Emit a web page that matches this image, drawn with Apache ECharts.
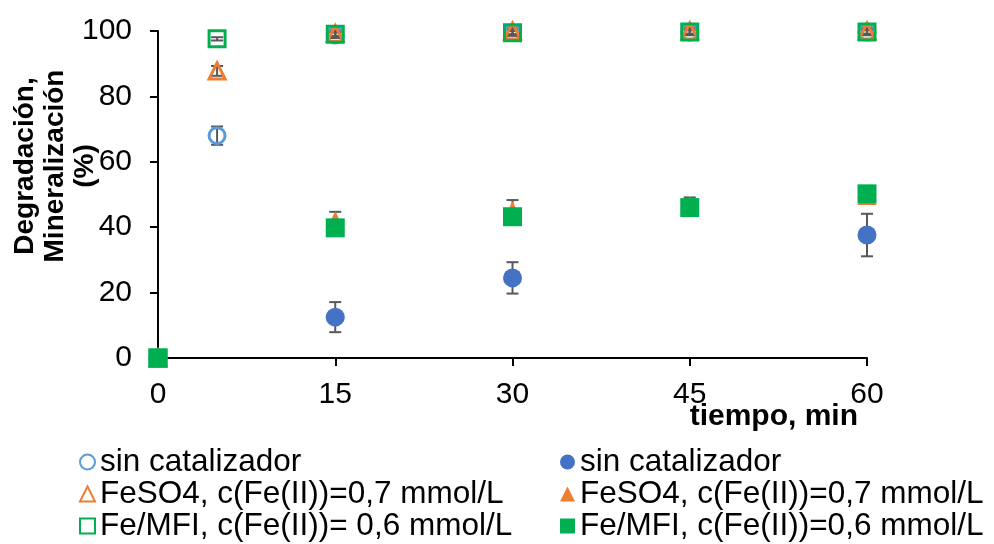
<!DOCTYPE html>
<html>
<head>
<meta charset="utf-8">
<script src="https://cdn.jsdelivr.net/npm/echarts@6/dist/echarts.min.js"></script>
<style>html,body{margin:0;padding:0;background:#fff}#c{width:994px;height:544px}</style>
</head>
<body>
<div id="c"></div>
<script>
// ---- data ----
var times = [0, 5, 15, 30, 45, 60];
var labels = [
  'sin catalizador',
  'sin catalizador',
  'FeSO4, c(Fe(II))=0,7 mmol/L',
  'FeSO4, c(Fe(II))=0,7 mmol/L',
  'Fe/MFI, c(Fe(II))= 0,6 mmol/L',
  'Fe/MFI, c(Fe(II))=0,6 mmol/L'
];
var degSin     = [0, 68.0, 98.8, 99.5, 99.7, 99.7];
var degSinErr  = [0, 2.8, 1, 1, 1, 1];
var minSin     = [0, null, 12.5, 24.5, null, 37.6];
var minSinErr  = [0, null, 4.6, 4.8, null, 6.5];
var degFe      = [0, 87.8, 99.2, 100, 100, 100];
var degFeErr   = [0, 1.5, 1, 1, 1, 1];
var minFe      = [0, null, 42.0, 45.0, 46.5, 49.7];
var minFeErr   = [0, null, 2.7, 3.3, 2.6, 1];
var degMfi     = [0, 97.6, 99.0, 99.5, 99.7, 99.7];
var degMfiErr  = [0, 0.5, 0.5, 0.5, 0.5, 0.5];
var minMfi     = [0, null, 39.8, 43.2, 46.0, 50.2];
var minMfiErr  = [0, null, 1, 1, 1, 1];
var xTicks = [0, 15, 30, 45, 60];
var yTicks = [0, 20, 40, 60, 80, 100];

// ---- build ----
var FONT = '"Liberation Sans", Arial, sans-serif';
function pts(v) {
  var out = [];
  for (var i = 0; i < times.length; i++) if (v[i] !== null) out.push([times[i], v[i]]);
  return out;
}
function errPts(v, e) {
  var out = [];
  for (var i = 0; i < times.length; i++) if (v[i] !== null && e[i]) out.push([times[i], v[i] - e[i], v[i] + e[i]]);
  return out;
}
function errSeries(v, e) {
  return {
    type: 'custom', data: errPts(v, e), z: 1, silent: true,
    encode: { x: 0, y: [1, 2] },
    renderItem: function (params, api) {
      var lo = api.coord([api.value(0), api.value(1)]);
      var hi = api.coord([api.value(0), api.value(2)]);
      var hw = 6;
      var st = { stroke: '#595959', lineWidth: 2 };
      return { type: 'group', children: [
        { type: 'line', shape: { x1: lo[0], y1: lo[1], x2: hi[0], y2: hi[1] }, style: st },
        { type: 'line', shape: { x1: lo[0] - hw, y1: lo[1], x2: lo[0] + hw, y2: lo[1] }, style: st },
        { type: 'line', shape: { x1: hi[0] - hw, y1: hi[1], x2: hi[0] + hw, y2: hi[1] }, style: st }
      ]};
    }
  };
}
function openSeries(name, v, sym, color) {
  return { name: name, type: 'scatter', data: pts(v), symbol: sym, symbolSize: 16, z: 3,
    itemStyle: { color: 'rgba(255,255,255,0)', borderColor: color, borderWidth: 3, opacity: 1 } };
}
function filledSeries(name, v, sym, color, size) {
  return { name: name, type: 'scatter', data: pts(v), symbol: sym, symbolSize: size, z: 3,
    itemStyle: { color: color, opacity: 1 } };
}
var names = ['s0', 's1', 's2', 's3', 's4', 's5'];
var series = [
  errSeries(degSin, degSinErr), errSeries(minSin, minSinErr),
  errSeries(degFe, degFeErr), errSeries(minFe, minFeErr),
  errSeries(degMfi, degMfiErr), errSeries(minMfi, minMfiErr),
  openSeries(names[0], degSin, 'circle', '#5B9BD5'),
  filledSeries(names[1], minSin, 'circle', '#4472C4', 19),
  openSeries(names[2], degFe, 'triangle', '#ED7D31'),
  filledSeries(names[3], minFe, 'triangle', '#ED7D31', 19),
  openSeries(names[4], degMfi, 'rect', '#00B050'),
  filledSeries(names[5], minMfi, 'rect', '#00B050', 19)
];
function fmt(n) { return labels[names.indexOf(n)]; }
var legendBase = {
  orient: 'vertical', itemWidth: 15, itemHeight: 15, itemGap: 0, padding: 0, height: 110,
  formatter: fmt, selectedMode: false,
  textStyle: { fontFamily: FONT, fontSize: 31.5, color: '#000', lineHeight: 32 }
};
var option = {
  animation: false,
  backgroundColor: '#fff',
  grid: { left: 158, right: 127, top: 31, bottom: 186 },
  xAxis: {
    type: 'value', min: 0, max: 60, interval: 15,
    axisLine: { lineStyle: { color: '#000', width: 2 } },
    axisTick: { show: true, length: 8, lineStyle: { color: '#000', width: 2 } },
    splitLine: { show: false },
    axisLabel: { fontFamily: FONT, fontSize: 30, color: '#000', margin: 22,
      formatter: function (v) { return xTicks.indexOf(v) >= 0 ? String(v) : ''; } }
  },
  yAxis: {
    type: 'value', min: 0, max: 100, interval: 20,
    axisLine: { show: true, lineStyle: { color: '#000', width: 2 } },
    axisTick: { show: true, length: 8, lineStyle: { color: '#000', width: 2 } },
    splitLine: { show: false },
    axisLabel: { fontFamily: FONT, fontSize: 30, color: '#000', margin: 26,
      formatter: function (v) { return yTicks.indexOf(v) >= 0 ? String(v) : ''; } }
  },
  legend: [
    Object.assign({}, legendBase, { left: 79, top: 446, data: [names[0], names[2], names[4]] }),
    Object.assign({}, legendBase, { left: 560, top: 446, data: [names[1], names[3], names[5]] })
  ],
  graphic: [
    { type: 'text', x: 858, y: 417, z: 10,
      style: { text: 'tiempo, min', fontFamily: FONT, fontSize: 30, fontWeight: 'bold', fill: '#000',
        textAlign: 'right', textVerticalAlign: 'middle' } },
    { type: 'text', x: 55, y: 166, rotation: Math.PI / 2, z: 10,
      style: { text: 'Degradación,\nMineralización\n(%)', fontFamily: FONT, fontSize: 28, fontWeight: 'bold',
        fill: '#000', textAlign: 'center', textVerticalAlign: 'middle', lineHeight: 30 } }
  ],
  series: series
};
var chart = echarts.init(document.getElementById('c'), null, { renderer: 'canvas' });
chart.setOption(option);
</script>
</body>
</html>
